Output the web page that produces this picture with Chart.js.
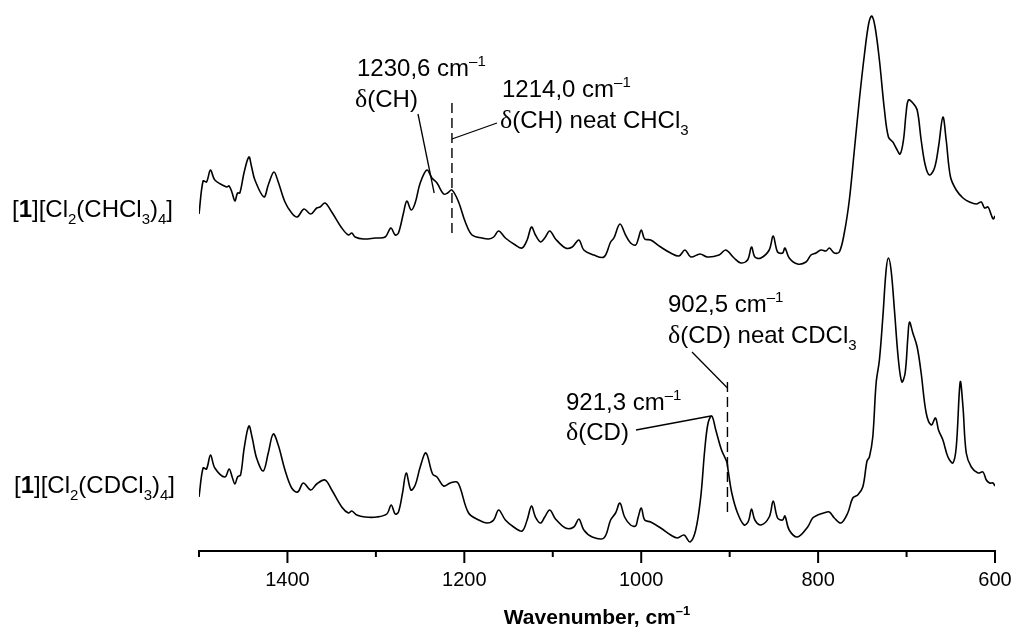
<!DOCTYPE html>
<html>
<head>
<meta charset="utf-8">
<script src="https://cdn.jsdelivr.net/npm/chart.js@4.4.1/dist/chart.umd.min.js"></script>
<style>
  html, body { margin: 0; padding: 0; background: #fff; }
</style>
</head>
<body>
<canvas id="c" width="1019" height="632"></canvas>
<script>
// IR spectra, wavenumber in cm-1, intensity in arbitrary units
const TOP_OFFSET = 2.6;
const BOTTOM_OFFSET = 0;

// [1][Cl2(CHCl3)4]
const topWavenumbers = [1500, 1495.4, 1491.5, 1487.0, 1482.1, 1468.8, 1465.9, 1462.5, 1459.4, 1456.4,
  1453.8, 1448.9, 1443.6, 1440.5, 1436.8, 1426.6, 1421.7, 1415.3, 1410.4, 1402.8,
  1395.2, 1388.9, 1381.3, 1373.7, 1366.9, 1363.2, 1357.5, 1349.9, 1338.6, 1331.1,
  1327.2, 1323.5, 1314.1, 1300.9, 1289.5, 1283.1, 1278.2, 1274.5, 1268.8, 1265.0,
  1260.1, 1255.6, 1249.9, 1242.3, 1236.6, 1230.9, 1223.5, 1218.9, 1214.0, 1206.5,
  1198.9, 1191.3, 1180.0, 1172.5, 1166.8, 1161.2, 1153.6, 1142.3, 1134.7, 1129.0,
  1124.1, 1119.6, 1113.9, 1109.1, 1103.4, 1096.9, 1085.6, 1078.0, 1070.5, 1064.9,
  1053.6, 1042.2, 1034.6, 1030.9, 1024.1, 1017.7, 1012.0, 1006.3, 1003.7, 999.9,
  996.1, 989.3, 978.0, 966.7, 957.3, 950.5, 944.0, 933.5, 925.1, 912.0,
  904.4, 895.0, 887.4, 879.8, 875.3, 871.5, 864.7, 855.3, 850.8, 845.8,
  840.1, 837.5, 832.7, 823.2, 813.7, 808.1, 802.4, 796.8, 791.1, 787.3,
  781.7, 776.0, 770.4, 764.7, 759.0, 753.4, 747.7, 742.7, 739.3, 735.6,
  730.7, 725.0, 720.5, 715.5, 711.8, 707.3, 703.5, 700.5, 697.9, 692.9,
  688.0, 683.5, 678.9, 674.1, 668.4, 663.9, 658.9, 655.2, 650.3, 643.8,
  636.2, 628.8, 621.1, 615.5, 611.8, 607.9, 604.2, 602.0, 600];
const topIntensity = [0.77, 1.10, 1.09, 1.21, 1.11, 1.04, 1.05, 0.98, 0.90, 0.98,
  0.98, 1.19, 1.34, 1.24, 1.11, 0.94, 1.06, 1.19, 1.09, 0.89,
  0.78, 0.74, 0.82, 0.77, 0.83, 0.84, 0.88, 0.79, 0.63, 0.56,
  0.58, 0.54, 0.52, 0.53, 0.54, 0.63, 0.56, 0.58, 0.78, 0.90,
  0.81, 0.88, 1.08, 1.21, 1.13, 1.08, 0.97, 0.98, 1.01, 0.89,
  0.69, 0.56, 0.53, 0.52, 0.54, 0.60, 0.53, 0.46, 0.43, 0.51,
  0.64, 0.56, 0.49, 0.53, 0.60, 0.52, 0.43, 0.44, 0.51, 0.41,
  0.36, 0.34, 0.49, 0.53, 0.67, 0.56, 0.48, 0.46, 0.51, 0.61,
  0.52, 0.51, 0.44, 0.38, 0.35, 0.41, 0.34, 0.37, 0.34, 0.36,
  0.41, 0.33, 0.28, 0.31, 0.44, 0.34, 0.33, 0.41, 0.55, 0.39,
  0.38, 0.43, 0.33, 0.27, 0.29, 0.36, 0.38, 0.41, 0.40, 0.43,
  0.38, 0.39, 0.58, 0.91, 1.41, 1.91, 2.36, 2.68, 2.75, 2.64,
  2.31, 1.81, 1.54, 1.49, 1.43, 1.37, 1.51, 1.78, 1.91, 1.88,
  1.81, 1.51, 1.26, 1.16, 1.23, 1.44, 1.74, 1.51, 1.14, 1.01,
  0.93, 0.89, 0.87, 0.89, 0.83, 0.84, 0.76, 0.72, 0.75];

// [1][Cl2(CDCl3)4]
const bottomWavenumbers = [1500, 1495.4, 1491.5, 1487.0, 1482.1, 1470.8, 1465.9, 1462.5, 1459.4, 1456.4,
  1453.0, 1448.9, 1443.6, 1439.8, 1434.9, 1427.4, 1421.7, 1416.1, 1410.4, 1402.8,
  1395.2, 1388.4, 1382.1, 1373.7, 1366.9, 1357.5, 1349.9, 1338.6, 1331.1, 1327.2,
  1321.6, 1312.2, 1298.9, 1287.6, 1282.7, 1278.2, 1274.5, 1269.9, 1265.7, 1260.4,
  1255.5, 1249.9, 1243.4, 1235.9, 1230.9, 1223.5, 1215.9, 1208.3, 1204.6, 1195.2,
  1183.8, 1174.3, 1166.8, 1161.2, 1153.6, 1144.2, 1134.7, 1129.0, 1124.1, 1119.6,
  1113.9, 1109.1, 1103.4, 1096.9, 1085.6, 1076.2, 1070.5, 1064.9, 1055.4, 1042.2,
  1034.6, 1029.0, 1024.1, 1018.8, 1012.0, 1006.3, 1003.7, 999.9, 996.1, 989.3,
  978.0, 966.7, 959.1, 951.6, 944.8, 938.4, 932.7, 928.2, 924.4, 920.2,
  915.7, 909.2, 903.2, 901.8, 897.6, 891.1, 883.6, 878.7, 875.3, 871.5,
  864.7, 855.3, 850.8, 845.8, 840.1, 837.5, 832.7, 823.2, 811.8, 806.2,
  800.5, 793.7, 787.3, 781.7, 774.1, 766.5, 760.8, 755.2, 749.5, 744.7,
  742.0, 738.2, 734.4, 730.7, 726.8, 723.1, 720.5, 717.5, 713.7, 709.2,
  705.3, 701.6, 698.5, 696.7, 692.9, 688.0, 683.5, 677.8, 672.1, 667.3,
  663.9, 658.9, 653.2, 647.6, 643.8, 639.3, 636.2, 632.5, 626.8, 619.2,
  613.6, 609.8, 606.1, 602.3, 600];
const bottomIntensity = [0.54, 0.83, 0.82, 0.96, 0.83, 0.74, 0.82, 0.74, 0.67, 0.74,
  0.76, 1.03, 1.25, 1.13, 0.93, 0.80, 0.98, 1.17, 1.06, 0.81,
  0.63, 0.59, 0.68, 0.61, 0.67, 0.71, 0.61, 0.44, 0.38, 0.40,
  0.36, 0.34, 0.34, 0.37, 0.46, 0.37, 0.39, 0.58, 0.78, 0.61,
  0.66, 0.84, 0.98, 0.77, 0.74, 0.65, 0.68, 0.69, 0.63, 0.38,
  0.31, 0.28, 0.31, 0.41, 0.31, 0.24, 0.20, 0.31, 0.45, 0.34,
  0.28, 0.34, 0.41, 0.32, 0.23, 0.24, 0.32, 0.21, 0.14, 0.13,
  0.31, 0.38, 0.48, 0.34, 0.26, 0.25, 0.33, 0.43, 0.31, 0.29,
  0.23, 0.16, 0.13, 0.16, 0.09, 0.21, 0.54, 1.01, 1.28, 1.35,
  1.21, 1.01, 0.89, 0.81, 0.58, 0.38, 0.26, 0.30, 0.42, 0.31,
  0.26, 0.34, 0.50, 0.33, 0.31, 0.35, 0.21, 0.14, 0.24, 0.33,
  0.36, 0.38, 0.39, 0.33, 0.28, 0.38, 0.53, 0.56, 0.64, 0.90,
  0.94, 1.14, 1.68, 1.91, 2.34, 2.81, 2.93, 2.81, 2.41, 1.91,
  1.69, 1.78, 2.14, 2.29, 2.18, 2.04, 1.78, 1.38, 1.26, 1.33,
  1.21, 1.11, 0.94, 0.88, 1.04, 1.69, 1.44, 0.98, 0.84, 0.78,
  0.79, 0.71, 0.68, 0.68, 0.65];

// axis ticks
const tickValues = [1500, 1400, 1300, 1200, 1100, 1000, 900, 800, 700, 600];
const labelledTicks = [1400, 1200, 1000, 800, 600];

// marked bands
const chBand = 1230.6;     // δ(CH) in the solvate
const chNeat = 1214.0;     // δ(CH) neat CHCl3
const cdBand = 921.3;      // δ(CD) in the solvate
const cdNeat = 902.5;      // δ(CD) neat CDCl3

const FONT = "'Liberation Sans', Arial, sans-serif";
const SERIF = "'Liberation Serif', 'Times New Roman', serif";

function toPoints(xs, ys, offset) {
  return xs.map((w, i) => ({ x: w, y: ys[i] + offset }));
}

// tiny markup: _{..} subscript, ^{..} superscript, *..* bold, δ from a serif face
function parseRich(str) {
  const parts = [];
  const re = /(_\{[^}]*\}|\^\{[^}]*\}|\*[^*]*\*|δ)/g;
  let last = 0, m;
  while ((m = re.exec(str))) {
    if (m.index > last) parts.push({ t: str.slice(last, m.index) });
    const tok = m[0];
    if (tok[0] === '_') parts.push({ t: tok.slice(2, -1), sub: true });
    else if (tok[0] === '^') parts.push({ t: tok.slice(2, -1), sup: true });
    else if (tok[0] === '*') parts.push({ t: tok.slice(1, -1), bold: true });
    else parts.push({ t: tok, serif: true });
    last = re.lastIndex;
  }
  if (last < str.length) parts.push({ t: str.slice(last) });
  return parts;
}

function richFont(p, size, bold) {
  let s = size;
  if (p.sub || p.sup) s = Math.round(size * 0.62);
  if (p.serif) s = Math.round(size * 1.08);
  const w = (bold || p.bold) ? 'bold ' : '';
  return w + s + 'px ' + (p.serif ? SERIF : FONT);
}

function measureRich(ctx, str, size, bold) {
  let w = 0;
  parseRich(str).forEach(p => { ctx.font = richFont(p, size, bold); w += ctx.measureText(p.t).width; });
  return w;
}

function drawRich(ctx, str, x, y, size, bold) {
  let cx = x;
  parseRich(str).forEach(p => {
    let dy = 0;
    if (p.sub) dy = size * 0.3;
    if (p.sup) dy = -size * 0.42;
    ctx.font = richFont(p, size, bold);
    ctx.fillText(p.t, cx, y + dy);
    cx += ctx.measureText(p.t).width;
  });
}

const decor = {
  id: 'decor',
  afterDraw(chart) {
    const { ctx, chartArea } = chart;
    const x = chart.scales.x, y = chart.scales.y;
    ctx.save();
    ctx.fillStyle = '#000';
    ctx.strokeStyle = '#000';
    ctx.textBaseline = 'alphabetic';
    ctx.textAlign = 'left';

    // tick marks, long on labelled values
    ctx.lineWidth = 2;
    tickValues.forEach(v => {
      const px = x.getPixelForValue(v);
      const len = labelledTicks.includes(v) ? 12 : 6;
      ctx.beginPath();
      ctx.moveTo(px, chartArea.bottom);
      ctx.lineTo(px, chartArea.bottom + len);
      ctx.stroke();
    });

    // axis title
    const title = 'Wavenumber, cm^{–1}';
    const tw = measureRich(ctx, title, 21, true);
    drawRich(ctx, title, (chartArea.left + chartArea.right) / 2 - tw / 2, 624, 21, true);

    // sample labels
    drawRich(ctx, '[*1*][Cl_{2}(CHCl_{3})_{4}]', 12, 217, 24);
    drawRich(ctx, '[*1*][Cl_{2}(CDCl_{3})_{4}]', 14, 493, 24);

    // dashed lines at neat solvent bands
    ctx.lineWidth = 1.4;
    ctx.setLineDash([10, 5]);
    const xh = x.getPixelForValue(chNeat);
    ctx.beginPath();
    ctx.moveTo(xh, y.getPixelForValue(4.48));
    ctx.lineTo(xh, y.getPixelForValue(3.14));
    ctx.stroke();
    const xd = x.getPixelForValue(cdNeat);
    ctx.beginPath();
    ctx.moveTo(xd, y.getPixelForValue(1.69));
    ctx.lineTo(xd, y.getPixelForValue(0.34));
    ctx.stroke();
    ctx.setLineDash([]);

    // leader lines
    ctx.lineWidth = 1.3;
    const lead = (x1, y1, x2, y2) => {
      ctx.beginPath(); ctx.moveTo(x1, y1); ctx.lineTo(x2, y2); ctx.stroke();
    };
    lead(418, 114, x.getPixelForValue(chBand + 3.5), y.getPixelForValue(TOP_OFFSET + 0.98));
    lead(xh, 139, 497, 123);
    lead(692, 352, xd, 388);
    lead(636, 430, x.getPixelForValue(cdBand), y.getPixelForValue(BOTTOM_OFFSET + 1.35));

    // annotation text
    drawRich(ctx, '1230,6 cm^{–1}', 357, 76, 24);
    drawRich(ctx, 'δ(CH)', 355, 107, 24);
    drawRich(ctx, '1214,0 cm^{–1}', 502, 97, 24);
    drawRich(ctx, 'δ(CH) neat CHCl_{3}', 500, 128, 24);
    drawRich(ctx, '902,5 cm^{–1}', 668, 312, 24);
    drawRich(ctx, 'δ(CD) neat CDCl_{3}', 668, 343, 24);
    drawRich(ctx, '921,3 cm^{–1}', 566, 410, 24);
    drawRich(ctx, 'δ(CD)', 566, 440, 24);
    ctx.restore();
  }
};

const ctx = document.getElementById('c').getContext('2d');
new Chart(ctx, {
  type: 'line',
  data: {
    datasets: [
      {
        label: '[1][Cl2(CHCl3)4]',
        data: toPoints(topWavenumbers, topIntensity, TOP_OFFSET),
        borderColor: '#000',
        borderWidth: 1.6,
        pointRadius: 0,
        tension: 0.35,
        fill: false,
      },
      {
        label: '[1][Cl2(CDCl3)4]',
        data: toPoints(bottomWavenumbers, bottomIntensity, BOTTOM_OFFSET),
        borderColor: '#000',
        borderWidth: 1.6,
        pointRadius: 0,
        tension: 0.35,
        fill: false,
      },
    ],
  },
  options: {
    responsive: false,
    animation: false,
    layout: { padding: { left: 199, right: 24, top: 0, bottom: 0 } },
    plugins: {
      legend: { display: false },
      tooltip: { enabled: false },
    },
    scales: {
      x: {
        type: 'linear',
        reverse: true,
        min: 600,
        max: 1500,
        afterFit: (scale) => {
          scale.height = 81;
          scale.paddingLeft = 0;
          scale.paddingRight = 0;
        },
        afterBuildTicks: (scale) => { scale.ticks = tickValues.map(v => ({ value: v })); },
        grid: { display: false, drawTicks: false },
        border: { display: true, color: '#000', width: 2 },
        ticks: {
          autoSkip: false,
          maxRotation: 0,
          padding: 17,
          color: '#000',
          font: { family: FONT, size: 20 },
          callback: (v) => labelledTicks.includes(v) ? String(v) : '',
        },
      },
      y: { display: false, min: 0, max: 5.51 },
    },
  },
  plugins: [decor],
});
</script>
</body>
</html>
